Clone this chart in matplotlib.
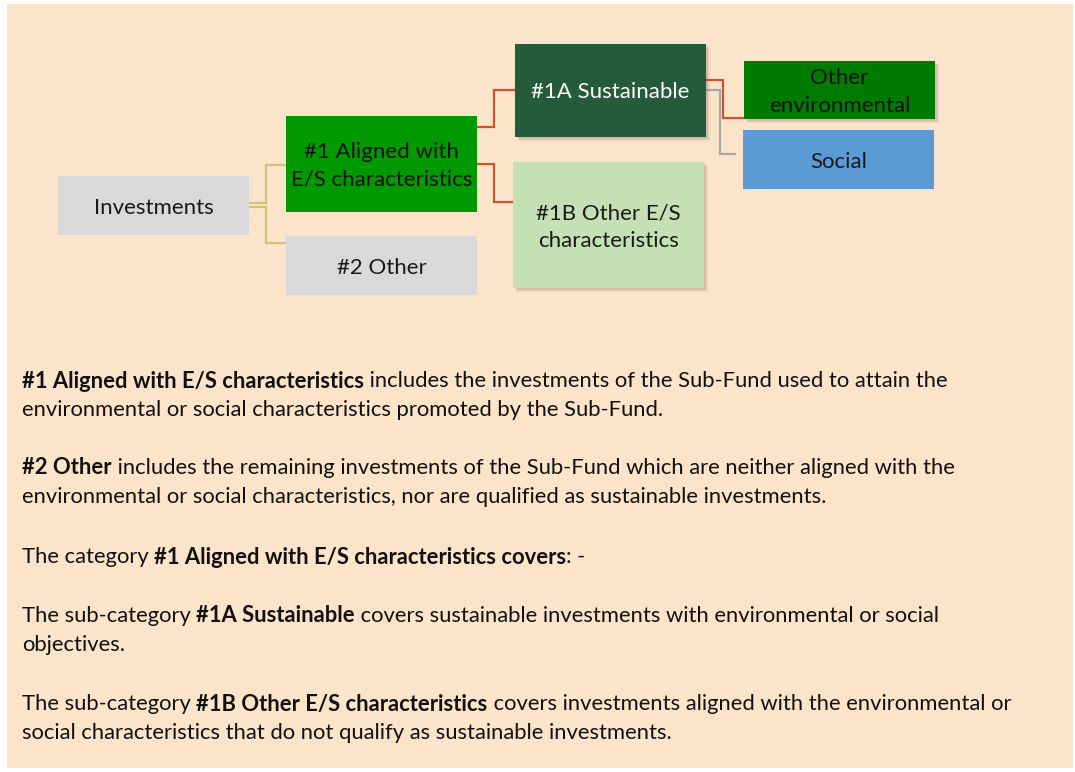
import matplotlib
matplotlib.use("Agg")
import matplotlib.pyplot as plt
from matplotlib.patches import Rectangle

# ---- content ----
box_labels = ["Investments", "#1 Aligned with\nE/S characteristics", "#2 Other",
              "#1A Sustainable", "#1B Other E/S\ncharacteristics",
              "Other\nenvironmental", "Social"]
box_colors = ["#D9D9D9", "#009900", "#D9D9D9", "#255A3B", "#C5E0B4", "#007A00", "#5B9BD5"]
text_colors = ["#1a1a1a", "#111111", "#1a1a1a", "#ffffff", "#1a1a1a", "#111111", "#1a1a1a"]
shadow = [False, False, False, True, True, True, False]

paragraphs = [
    [[("#1 Aligned with E/S characteristics", True), (" includes the investments of the Sub-Fund used to attain the", False)],
     [("environmental or social characteristics promoted by the Sub-Fund.", False)]],
    [[("#2 Other", True), (" includes the remaining investments of the Sub-Fund which are neither aligned with the", False)],
     [("environmental or social characteristics, nor are qualified as sustainable investments.", False)]],
    [[("The category ", False), ("#1 Aligned with E/S characteristics covers", True), (": -", False)]],
    [[("The sub-category ", False), ("#1A Sustainable", True), (" covers sustainable investments with environmental or social", False)],
     [("objectives.", False)]],
    [[("The sub-category ", False), ("#1B Other E/S characteristics", True), (" covers investments aligned with the environmental or", False)],
     [("social characteristics that do not qualify as sustainable investments.", False)]],
]

# ---- layout (pixels, origin top-left) ----
W, H = 1075, 772
box_rects = [(58, 176, 191, 59), (286, 116, 191, 96), (286, 236, 191, 59),
             (515, 44, 191, 93), (513, 162, 191, 126), (744, 61, 191, 58), (743, 130, 191, 59)]
connectors = [
    ([249, 262, 266, 266, 286], [203, 203, 203, 165, 165], "#CFC27A"),
    ([249, 262, 266, 266, 286], [207, 207, 207, 243, 243], "#CFC27A"),
    ([477, 494, 494, 515], [127, 127, 90, 90], "#D0532E"),
    ([477, 494, 494, 513], [164, 164, 202, 202], "#D0532E"),
    ([706, 723, 723, 744], [80, 80, 118, 118], "#D0532E"),
    ([706, 720, 720, 735], [90, 90, 154, 154], "#A9A9A9"),
]
para_y = [[381, 410], [468, 497], [557], [616, 645], [704, 733]]
text_x = 22

FONT = "Lato"
BOX_FS = 16
BODY_FS = 15.85

fig = plt.figure(figsize=(W / 100, H / 100), dpi=100)
fig.patch.set_facecolor("white")
ax = fig.add_axes([0, 0, 1, 1])
ax.set_xlim(0, W)
ax.set_ylim(H, 0)
ax.axis("off")

ax.add_patch(Rectangle((7, 4), 1066, 764, facecolor="#FCE4CA", edgecolor="none", zorder=0))

for xs, ys, c in connectors:
    ax.plot(xs, ys, color=c, lw=1.6, zorder=1, solid_joinstyle="miter")

for (x, y, w, h), lab, fc, tc, sh in zip(box_rects, box_labels, box_colors, text_colors, shadow):
    if sh:
        for k, a in [(4, 0.07), (3, 0.09), (2, 0.11)]:
            ax.add_patch(Rectangle((x + k, y + k), w, h, facecolor="#5a4a3a", alpha=a,
                                   edgecolor="none", zorder=2))
    ax.add_patch(Rectangle((x, y), w, h, facecolor=fc, edgecolor="none", zorder=3))
    ax.text(x + w / 2, y + h / 2 + 2, lab, ha="center", va="center", fontsize=BOX_FS,
            family=FONT, color=tc, linespacing=1.45, zorder=4)

fig.canvas.draw()
renderer = fig.canvas.get_renderer()
inv = ax.transData.inverted()
for para, ys in zip(paragraphs, para_y):
    for line, y in zip(para, ys):
        x = text_x
        for s, bold in line:
            t = ax.text(x, y, s, ha="left", va="center", fontsize=BODY_FS, family=FONT,
                        fontweight="bold" if bold else "normal", color="#111111")
            bb = t.get_window_extent(renderer=renderer)
            x = inv.transform((bb.x1, bb.y0))[0]

fig.savefig("out.png", dpi=100, facecolor="white")
